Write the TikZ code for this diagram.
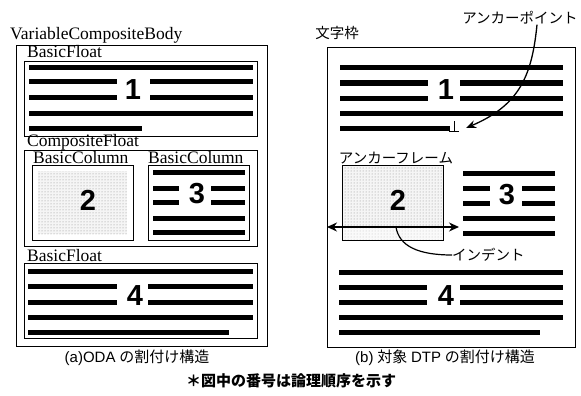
\documentclass[tikz,border=0pt]{standalone}
\usepackage{fontspec}
\setmainfont{Liberation Serif}
\newfontfamily\sansf{Liberation Sans}
\newfontfamily\jp{Noto Sans CJK JP}
\usetikzlibrary{patterns,arrows.meta}
\begin{document}
\begin{tikzpicture}[x=1pt,y=-1pt,
  box/.style={draw, line width=1.3pt, inner sep=0pt, anchor=north west},
  tl/.style={line width=5pt},
  num/.style={font=\sansf\bfseries\fontsize{29}{29}\selectfont, inner sep=0pt},
  lab/.style={font=\fontsize{17.5}{17.5}\selectfont, inner sep=0pt, anchor=base west},
  jlab/.style={font=\jp\fontsize{14.5}{14.5}\selectfont, inner sep=0pt},
  captxt/.style={font=\fontsize{15}{15}\selectfont, inner sep=0pt},
  stip/.style={pattern=dots, pattern color=black!45, preaction={fill=black!4}},
  stiplight/.style={pattern=dots, pattern color=black!25, preaction={fill=black!2}},
  conn/.style={line width=1.3pt},
  tip/.style={-{Stealth[length=10pt,width=8pt]}},
]
\useasboundingbox[fill=white] (0,0) rectangle (581,396);

% ---------------- left panel ----------------
\node[box, minimum width=251pt, minimum height=301pt] (vcb) at (16,45) {};
\node[lab] (lvcb) at (10,40) {VariableCompositeBody};

\node[box, minimum width=233pt, minimum height=75pt] (bf1) at (24,61) {};
\node[lab] (lbf1) at (27,58) {BasicFloat};

\node[box, minimum width=233pt, minimum height=96pt] (cf) at (24,150) {};
\node[lab] (lcf) at (27,146.5) {CompositeFloat};

\node[box, minimum width=101pt, minimum height=75pt] (bc1) at (32,165) {};
\node[lab] (lbc1) at (33,163.5) {BasicColumn};
\node[box, minimum width=101pt, minimum height=75pt] (bc2) at (148,165) {};
\node[lab] (lbc2) at (148,163.5) {BasicColumn};

\node[box, minimum width=233pt, minimum height=75pt] (bf4) at (24,263) {};
\node[lab] (lbf4) at (27,261) {BasicFloat};

% block 1
\draw[tl] (29,68) -- (253,68);
\draw[tl] (29,82) -- (117,82) (150,82) -- (253,82);
\draw[tl] (29,97) -- (117,97) (150,97) -- (253,97);
\draw[tl] (29,113) -- (253,113);
\draw[tl] (29,128) -- (142,128);
\node[num] (n1a) at (133,90) {1};

% column 2
\path[stip] (38,171) rectangle (127,234);
\node[num] (n2a) at (88,200) {2};

% column 3
\draw[tl] (153,172) -- (245,172);
\draw[tl] (153,188) -- (179,188) (211,188) -- (245,188);
\draw[tl] (153,202) -- (179,202) (211,202) -- (245,202);
\draw[tl] (153,218) -- (245,218);
\draw[tl] (153,232) -- (245,232);
\node[num] (n3a) at (197,194) {3};

% block 4
\draw[tl] (28,271) -- (253,271);
\draw[tl] (28,286) -- (117,286) (148,286) -- (253,286);
\draw[tl] (28,302) -- (117,302) (148,302) -- (253,302);
\draw[tl] (28,317) -- (253,317);
\draw[tl] (28,332) -- (229,332);
\node[num] (n4a) at (135,296) {4};

% ---------------- right panel ----------------
\node[box, minimum width=248pt, minimum height=300pt] (frm) at (327,47) {};
\node[jlab] (lfrm) at (337,33) {文字枠};
\node[jlab] (apt) at (520,18) {アンカーポイント};

% block 1
\draw[tl] (340,68) -- (563,68);
\draw[tl] (340,83) -- (428,83) (460,83) -- (563,83);
\draw[tl] (340,98) -- (428,98) (460,98) -- (563,98);
\draw[tl] (340,113) -- (563,113);
\draw[tl] (340,128) -- (450,128);
\node[num] (n1b) at (446,90) {1};
% anchor point mark
\draw[line width=0.8pt] (454,121) -- (454,131) (449,131) -- (459,131);
\coordinate (anc) at (466,128);
\draw[conn,tip] ([xshift=17pt]apt.south) .. controls (532,75) and (520,105) .. (anc);

% anchor frame
\path[stip] (342,165) rectangle (443,227);
\path[stiplight] (342,227) rectangle (443,240);
\node[box, minimum width=101pt, minimum height=75pt] (af) at (342,165) {};
\node[jlab] (laf) at (396,158) {アンカーフレーム};
\node[num] (n2b) at (398,200) {2};
\coordinate (ial) at (327,227);
\coordinate (iar) at (459,227);
\draw[conn,{Stealth[length=10pt,width=9pt]}-{Stealth[length=10pt,width=9pt]}] (ial) -- (iar);
\coordinate (ip) at (396,227);
\node[jlab, anchor=west] (ind) at (452,255) {インデント};
\draw[line width=1.2pt] (ip) .. controls (399,246) and (418,255) .. (ind.west);

% column 3
\draw[tl] (463,173) -- (555,173);
\draw[tl] (463,188) -- (490,188) (522,188) -- (555,188);
\draw[tl] (463,203) -- (490,203) (522,203) -- (555,203);
\draw[tl] (463,218) -- (555,218);
\draw[tl] (463,233) -- (555,233);
\node[num] (n3b) at (507,195) {3};

% block 4
\draw[tl] (339,272) -- (563,272);
\draw[tl] (339,287) -- (427,287) (460,287) -- (563,287);
\draw[tl] (339,302) -- (427,302) (460,302) -- (563,302);
\draw[tl] (339,317) -- (563,317);
\draw[tl] (339,332) -- (540,332);
\node[num] (n4b) at (446,296) {4};

% ---------------- captions ----------------
\node[captxt] (capa) at (137,358) {{\sansf (a)ODA} {\jp の割付け構造}};
\node[captxt] (capb) at (445,358) {{\sansf (b)} {\jp 対象} {\sansf DTP} {\jp の割付け構造}};
\node[captxt] (note) at (291,381) {\jp\bfseries ＊図中の番号は論理順序を示す};
\end{tikzpicture}
\end{document}
